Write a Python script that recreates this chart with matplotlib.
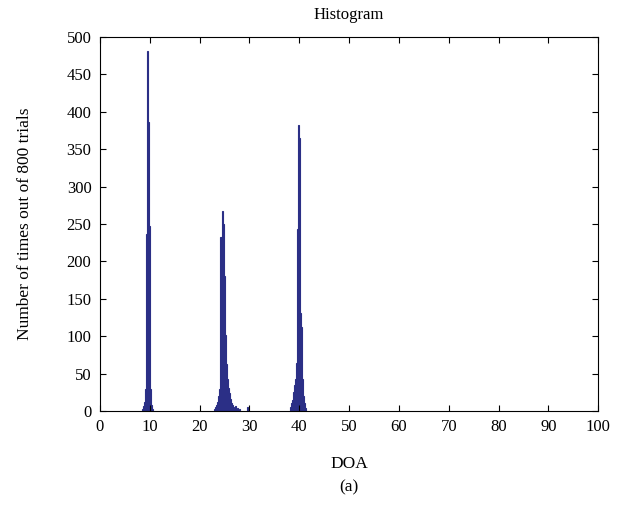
import numpy as np
import matplotlib
matplotlib.use("Agg")
import matplotlib.pyplot as plt

plt.rcParams["font.family"] = ["Liberation Serif", "DejaVu Serif"]

# DOA bin centres and counts
peak1_x = [8.5, 8.7, 8.9, 9.1, 9.3, 9.5, 9.7, 9.9, 10.1, 10.3, 10.5]
peak1_y = [3, 6, 12, 30, 237, 482, 386, 248, 30, 8, 2]

peak2_x = [23.1, 23.3, 23.5, 23.7, 23.9, 24.1, 24.3, 24.5, 24.7, 24.9, 25.1,
           25.3, 25.5, 25.7, 25.9, 26.1, 26.3, 26.5, 26.7, 26.9, 27.3, 27.7, 28.1, 29.7]
peak2_y = [3, 5, 8, 12, 20, 30, 232, 232, 268, 250, 180,
           101, 63, 43, 31, 24, 16, 10, 8, 5, 6, 4, 3, 5]

peak3_x = [38.2, 38.4, 38.6, 38.8, 39.0, 39.2, 39.4, 39.6, 39.8, 40.0,
           40.2, 40.4, 40.6, 40.8, 41.0, 41.2]
peak3_y = [5, 10, 15, 25, 35, 43, 64, 243, 383, 365,
           131, 112, 43, 20, 10, 4]

doa = peak1_x + peak2_x + peak3_x
counts = peak1_y + peak2_y + peak3_y

bar_color = "#2b2f86"

fig = plt.figure(figsize=(6.44, 5.08), dpi=100)
ax = fig.add_axes([0.155, 0.191, 0.774, 0.736])
ax.bar(doa, counts, width=0.2, color=bar_color, edgecolor=bar_color, linewidth=0.8)

ax.set_xlim(0, 100)
ax.set_ylim(0, 500)
ax.set_xticks(np.arange(0, 101, 10))
ax.set_yticks(np.arange(0, 501, 50))
ax.tick_params(direction="in", top=True, right=True, length=4, labelsize=12, pad=6)
for s in ax.spines.values():
    s.set_linewidth(0.8)

ax.set_title("Histogram", fontsize=12, pad=13)
ax.set_ylabel("Number of times out of 800 trials", fontsize=12.5, labelpad=24)
ax.set_xlabel("DOA", fontsize=12.5, labelpad=15)
fig.text(0.5419, 0.041, "(a)", ha="center", va="center", fontsize=12.5)

fig.savefig("out.png", dpi=100)
